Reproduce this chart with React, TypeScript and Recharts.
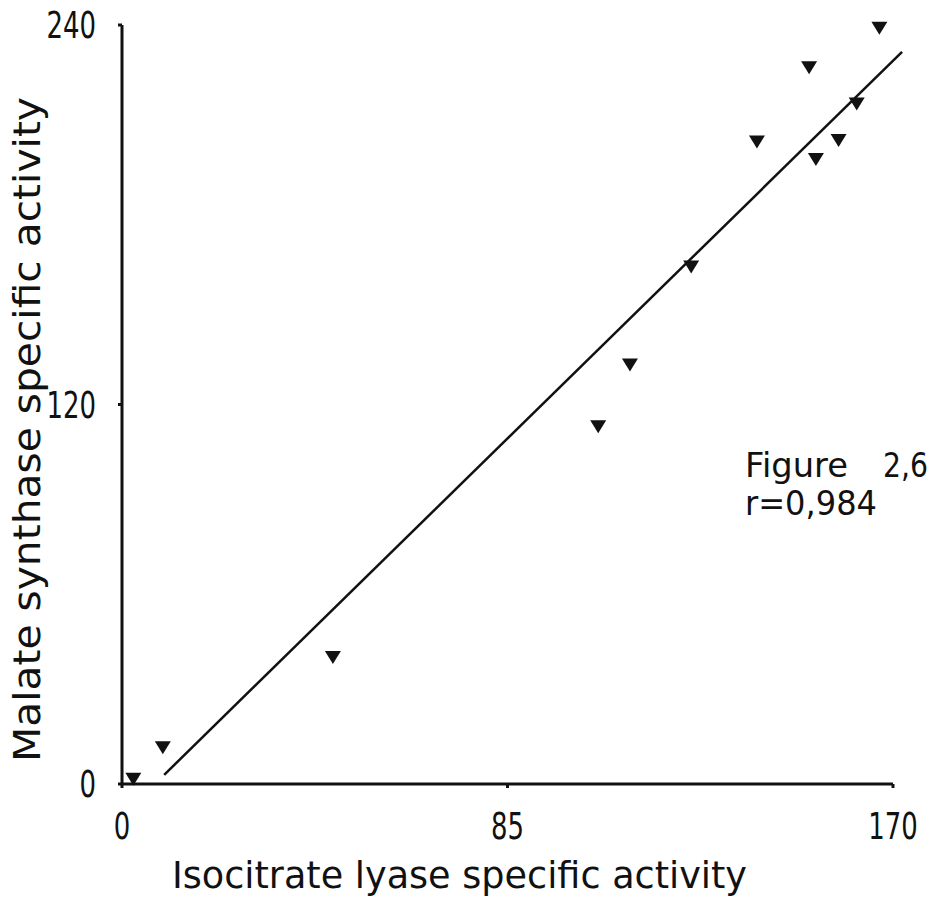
import { Label, ReferenceLine, Scatter, ScatterChart, XAxis, YAxis } from "recharts";

// isocitrate lyase specific activity (x) vs malate synthase specific activity (y)
const icl = [2.5, 9, 46.5, 105, 112, 125.5, 140, 151.5, 153, 158, 162, 167];
const ms = [1.5, 11.5, 40, 113, 132.5, 163.5, 203, 226.5, 197.5, 203.5, 215, 239];

// regression line end points
const fitX = [9.3, 172];
const fitY = [2.9, 231.5];

const xTicks = [0, 85, 170];
const yTicks = [0, 120, 240];

const points = icl.map((x, i) => ({ x, y: ms[i] }));
const fitSegment = fitX.map((x, i) => ({ x, y: fitY[i] }));

const FONT = "'DejaVu Sans', sans-serif";
const INK = "#111";
const DIGIT_W = 16.5;

// downward pointing filled triangle
function Triangle(props: any) {
    const { cx, cy } = props;
    const w = 8, h = 6.5;
    return <polygon points={`${cx - w},${cy - h} ${cx + w},${cy - h} ${cx},${cy + h}`} fill={INK} />;
}

// narrow, tall tick digits like the stencil lettering of the original
function XTick(props: any) {
    const s = String(props.payload.value);
    return (
        <text x={props.x} y={props.y} dy="0.72em" textAnchor="middle" fill={INK} fontSize={37} fontFamily={FONT}
            textLength={s.length * DIGIT_W} lengthAdjust="spacingAndGlyphs">
            {s}
        </text>
    );
}

function YTick(props: any) {
    const s = String(props.payload.value);
    return (
        <text x={props.x} y={props.y} dy="0.36em" textAnchor="end" fill={INK} fontSize={37} fontFamily={FONT}
            textLength={s.length * DIGIT_W} lengthAdjust="spacingAndGlyphs">
            {s}
        </text>
    );
}

export default function App() {
    return (
        <div style={{ position: "absolute", left: 0, top: 0, width: 937, height: 900, background: "#fff" }}>
            <ScatterChart width={937} height={900} margin={{ top: 25, right: 44, bottom: 56, left: 62 }}>
                <XAxis
                    type="number"
                    dataKey="x"
                    domain={[0, 170]}
                    ticks={xTicks}
                    height={60}
                    axisLine={{ stroke: INK, strokeWidth: 3 }}
                    tickLine={{ stroke: INK, strokeWidth: 3 }}
                    tickSize={4}
                    tickMargin={24}
                    tick={<XTick />}
                >
                    <Label
                        content={({ viewBox }: any) => (
                            <text
                                x={viewBox.x + 50}
                                y={888}
                                fill={INK}
                                fontSize={38}
                                fontFamily={FONT}
                                textLength={575}
                                lengthAdjust="spacingAndGlyphs"
                            >
                                Isocitrate lyase specific activity
                            </text>
                        )}
                    />
                </XAxis>
                <YAxis
                    type="number"
                    dataKey="y"
                    domain={[0, 240]}
                    ticks={yTicks}
                    width={60}
                    axisLine={{ stroke: INK, strokeWidth: 3 }}
                    tickLine={{ stroke: INK, strokeWidth: 3 }}
                    tickSize={4}
                    tickMargin={22}
                    tick={<YTick />}
                >
                    <Label
                        content={() => (
                            <text
                                x={40}
                                y={762}
                                fill={INK}
                                fontSize={38}
                                fontFamily={FONT}
                                textLength={665}
                                lengthAdjust="spacingAndGlyphs"
                                transform="rotate(-90, 40, 762)"
                            >
                                Malate synthase specific activity
                            </text>
                        )}
                    />
                </YAxis>
                <ReferenceLine segment={fitSegment} stroke={INK} strokeWidth={2.5} ifOverflow="visible" />
                <Scatter data={points} shape={<Triangle />} isAnimationActive={false} />
            </ScatterChart>
            <svg width={937} height={900} style={{ position: "absolute", left: 0, top: 0, pointerEvents: "none" }}>
                <text y={477} fill={INK} fontSize={34} fontFamily={FONT}>
                    <tspan x={745} textLength={103} lengthAdjust="spacingAndGlyphs">Figure</tspan>
                    <tspan x={883} textLength={45} lengthAdjust="spacingAndGlyphs">2,6</tspan>
                </text>
                <text x={745} y={515} fill={INK} fontSize={34} fontFamily={FONT} textLength={132} lengthAdjust="spacingAndGlyphs">
                    r=0,984
                </text>
            </svg>
        </div>
    );
}
